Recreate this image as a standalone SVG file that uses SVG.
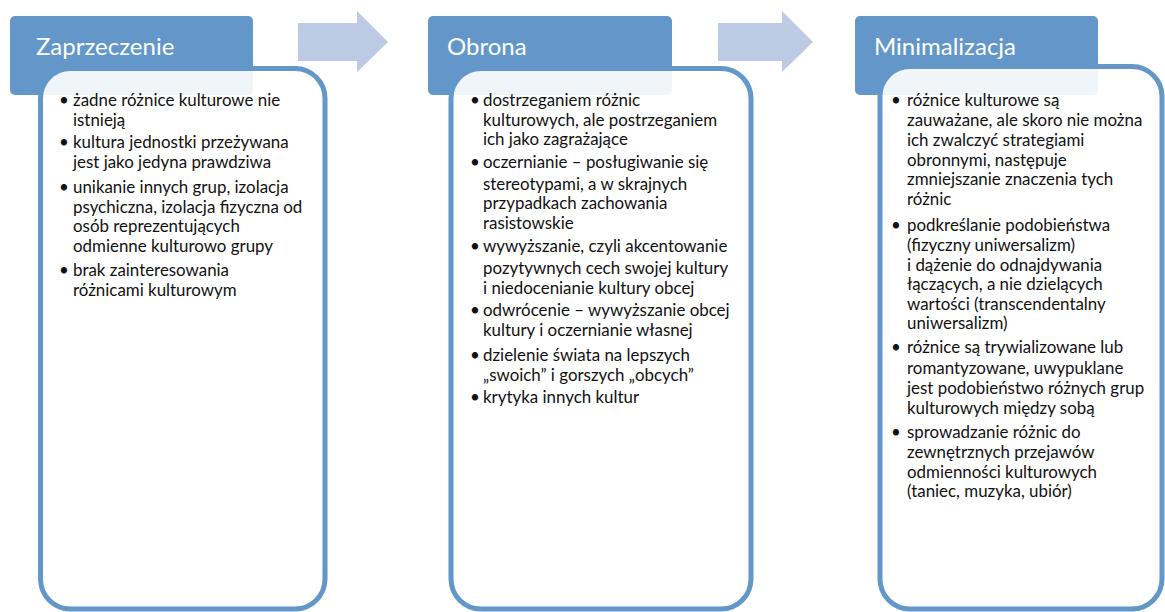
<svg xmlns="http://www.w3.org/2000/svg" width="1165" height="612" viewBox="0 0 1165 612">
<style>
.hdr{fill:#6397c9}
.body{fill:#ffffff;fill-opacity:0.9;stroke:#6397c9;stroke-width:5}
.title{font-family:Lato,"Liberation Sans",sans-serif;font-size:24px;fill:#ffffff}
.txt{font-family:Lato,"Liberation Sans",sans-serif;font-size:16.9px;fill:#111111}
.blt{font-family:Lato,"Liberation Sans",sans-serif;font-size:17px;fill:#111111;text-anchor:middle}
.arrow{fill:#bccbe3}
</style>
<rect width="1165" height="612" fill="#ffffff"/>
<g id="connectors">
<path class="arrow" d="M298,23 H357 V11 L388,42 L357,72 V61 H298 Z"/>
<path class="arrow" d="M718,23 H782 V11 L813,42 L782,72 V61 H718 Z"/>
</g>
<g id="node-zaprzeczenie">
<rect class="hdr" x="10" y="16" width="243" height="79" rx="5"/>
<text class="title" x="36" y="55">Zaprzeczenie</text>
<rect class="body" x="40.5" y="68.5" width="284.5" height="540.5" rx="30"/>
<g class="blt">
<text x="64" y="106">•</text><text x="64" y="148">•</text><text x="64" y="193">•</text><text x="64" y="276">•</text>
</g>
<g class="txt">
<text x="73" y="106">żadne różnice kulturowe nie</text>
<text x="73" y="125.5">istnieją</text>
<text x="73" y="148">kultura jednostki przeżywana</text>
<text x="73" y="167.5">jest jako jedyna prawdziwa</text>
<text x="73" y="193">unikanie innych grup, izolacja</text>
<text x="73" y="212.5">psychiczna, izolacja fizyczna od</text>
<text x="73" y="232">osób reprezentujących</text>
<text x="73" y="251.5">odmienne kulturowo grupy</text>
<text x="73" y="276">brak zainteresowania</text>
<text x="73" y="296">różnicami kulturowym</text>
</g>
</g>
<g id="node-obrona">
<rect class="hdr" x="428" y="16" width="244" height="79" rx="5"/>
<text class="title" x="447" y="55">Obrona</text>
<rect class="body" x="451" y="68.5" width="300" height="540.5" rx="30"/>
<g class="blt">
<text x="475" y="106">•</text><text x="475" y="168">•</text><text x="475" y="252">•</text><text x="475" y="316">•</text><text x="475" y="361">•</text><text x="475" y="403">•</text>
</g>
<g class="txt">
<text x="483" y="106">dostrzeganiem różnic</text>
<text x="483" y="125.5">kulturowych, ale postrzeganiem</text>
<text x="483" y="145">ich jako zagrażające</text>
<text x="483" y="168">oczernianie – posługiwanie się</text>
<text x="483" y="189.5">stereotypami, a w skrajnych</text>
<text x="483" y="209">przypadkach zachowania</text>
<text x="483" y="229">rasistowskie</text>
<text x="483" y="252">wywyższanie, czyli akcentowanie</text>
<text x="483" y="273.5">pozytywnych cech swojej kultury</text>
<text x="483" y="293.5">i niedocenianie kultury obcej</text>
<text x="483" y="316">odwrócenie – wywyższanie obcej</text>
<text x="483" y="336">kultury i oczernianie własnej</text>
<text x="483" y="361">dzielenie świata na lepszych</text>
<text x="483" y="380.5">„swoich” i gorszych „obcych”</text>
<text x="483" y="403">krytyka innych kultur</text>
</g>
</g>
<g id="node-minimalizacja">
<rect class="hdr" x="855" y="16" width="243" height="79" rx="5"/>
<text class="title" x="874" y="55">Minimalizacja</text>
<rect class="body" x="880" y="66.5" width="282" height="542.5" rx="30"/>
<g class="blt">
<text x="896" y="106">•</text><text x="896" y="231">•</text><text x="896" y="353">•</text><text x="896" y="438">•</text>
</g>
<g class="txt">
<text x="907" y="106">różnice kulturowe są</text>
<text x="907" y="126">zauważane, ale skoro nie można</text>
<text x="907" y="145.5">ich zwalczyć strategiami</text>
<text x="907" y="165.5">obronnymi, następuje</text>
<text x="907" y="185">zmniejszanie znaczenia tych</text>
<text x="907" y="205">różnic</text>
<text x="907" y="231">podkreślanie podobieństwa</text>
<text x="907" y="250.5">(fizyczny uniwersalizm)</text>
<text x="907" y="270.5">i dążenie do odnajdywania</text>
<text x="907" y="290">łączących, a nie dzielących</text>
<text x="907" y="309.5">wartości (transcendentalny</text>
<text x="907" y="329">uniwersalizm)</text>
<text x="907" y="353">różnice są trywializowane lub</text>
<text x="907" y="373.5">romantyzowane, uwypuklane</text>
<text x="907" y="393.5">jest podobieństwo różnych grup</text>
<text x="907" y="413.5">kulturowych między sobą</text>
<text x="907" y="438">sprowadzanie różnic do</text>
<text x="907" y="457.5">zewnętrznych przejawów</text>
<text x="907" y="477.5">odmienności kulturowych</text>
<text x="907" y="497">(taniec, muzyka, ubiór)</text>
</g>
</g>
</svg>
